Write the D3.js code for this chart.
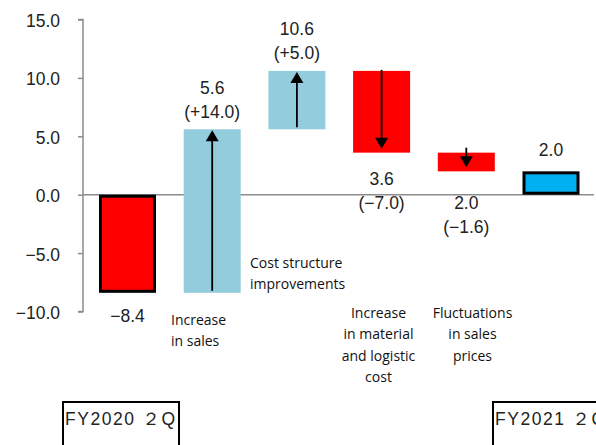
<!DOCTYPE html>
<html><head><meta charset="utf-8">
<script src="https://cdn.jsdelivr.net/npm/d3@7"></script>
<style>body{margin:0;background:#fff}svg{display:block}</style>
</head><body>
<svg id="c" width="596" height="445"></svg>
<script>
const steps = ["FY2020 2Q","Increase in sales","Cost structure improvements","Increase in material and logistic cost","Fluctuations in sales prices","FY2021 2Q"];
const starts = [0, -8.4, 5.6, 10.6, 3.6, 0];
const ends = [-8.4, 5.6, 10.6, 3.6, 2.0, 2.0];
const kinds = ["total","up","up","down","down","total"];
const valueLabels = ["−8.4","5.6","10.6","3.6","2.0","2.0"];
const changeLabels = ["","(+14.0)","(+5.0)","(−7.0)","(−1.6)",""];
const yTicks = [15,10,5,0,-5,-10];
const catLines = [[],["Increase","in sales"],["Cost structure","improvements"],["Increase","in material","and logistic","cost"],["Fluctuations","in sales","prices"],[]];
const periodLabels = ["FY2020 ２Q","FY2021 ２Q"];

const svg = d3.select("#c");
const y = d3.scaleLinear().domain([-10,15]).range([311.5,19.5]);
const x = d3.scaleBand().domain(steps).range([85.15,593.35]).paddingInner(0.327).paddingOuter(0.1635);
const numFont = "'Liberation Sans', Arial, sans-serif";
const catFont = "'Open Sans', 'Noto Sans', sans-serif";
const numSize = 17.5;

// axis
const axis = d3.axisLeft(y).tickValues(yTicks).tickSize(5).tickPadding(18);
const ag = svg.append("g").attr("transform","translate(83,0)").call(axis);
ag.select(".domain").attr("stroke","#8c8c8c").attr("stroke-width",1.5).attr("d","M-5,"+y(-10)+"H0V"+y(15)+"H-5");
ag.selectAll(".tick line").attr("stroke","#8c8c8c").attr("stroke-width",1.5);
ag.selectAll(".tick text").attr("font-family",numFont).attr("font-size",numSize).attr("fill","#222")
  .attr("dy","0.4em").text(d=>d3.format(".1f")(d).replace("-","−"));

// zero line
svg.append("line").attr("x1",83).attr("x2",594).attr("y1",y(0)).attr("y2",y(0)).attr("stroke","#8c8c8c").attr("stroke-width",1.5);

const fillFor = k => k==="up" ? "#93cddd" : "#ff0000";
const bw = x.bandwidth();
const arrowStartOffset = [0, -2, -2, -1, -5, 0];
steps.forEach((s,i)=>{
  const top = y(Math.max(starts[i],ends[i])), bot = y(Math.min(starts[i],ends[i]));
  if (kinds[i]==="total") {
    const fill = i===0 ? "#ff0000" : "#00b0f0";
    svg.append("rect").attr("x",x(s)+1.5).attr("y",top+1.5).attr("width",bw-3).attr("height",bot-top-3)
      .attr("fill",fill).attr("stroke","#000").attr("stroke-width",3);
  } else {
    svg.append("rect").attr("x",x(s)).attr("y",top).attr("width",bw).attr("height",bot-top).attr("fill",fillFor(kinds[i]));
    const cx = x(s)+bw/2;
    const up = kinds[i]==="up";
    const a0 = y(starts[i]) + arrowStartOffset[i], a1 = y(ends[i]) + (up ? 1 : -4);
    const head = 11;
    const dir = up ? 1 : -1;
    svg.append("line").attr("x1",cx).attr("x2",cx).attr("y1",a0).attr("y2",a1+dir*head*0.8).attr("stroke","#000").attr("stroke-width",1.8);
    svg.append("path").attr("d",`M${cx},${a1}L${cx-6.5},${a1+dir*head}L${cx+6.5},${a1+dir*head}Z`).attr("fill","#000");
  }
});

// value labels
const valPos = [
  {dy: y(ends[0])+29, lines:[valueLabels[0]]},
  {dy: y(ends[1])-35.5, lines:[valueLabels[1],changeLabels[1]]},
  {dy: y(ends[2])-35.5, lines:[valueLabels[2],changeLabels[2]]},
  {dy: y(ends[3])+32, lines:[valueLabels[3],changeLabels[3]]},
  {dy: y(ends[4])+38, lines:[valueLabels[4],changeLabels[4]]},
  {dy: y(ends[5])-15, lines:[valueLabels[5]]}
];
steps.forEach((s,i)=>{
  const cx = x(s)+bw/2;
  valPos[i].lines.forEach((t,j)=>{
    svg.append("text").attr("x",cx).attr("y",valPos[i].dy + j*24).attr("text-anchor","middle")
      .attr("font-family",numFont).attr("font-size",numSize).attr("fill","#222").text(t);
  });
});

// category labels
const catPos = [null,{x:171,y:325,anchor:"start"},{x:250,y:268,anchor:"start"},{x:378.5,y:318,anchor:"middle"},{x:472.5,y:318,anchor:"middle"},null];
catLines.forEach((lines,i)=>{
  if(!catPos[i]) return;
  lines.forEach((t,j)=>{
    svg.append("text").attr("x",catPos[i].x).attr("y",catPos[i].y+j*21.3).attr("text-anchor",catPos[i].anchor)
      .attr("font-family",catFont).attr("font-size",14).attr("fill","#111").text(t);
  });
});

// period boxes
const boxes = [{x:63, w:116},{x:493, w:120}];
boxes.forEach((b,i)=>{
  svg.append("rect").attr("x",b.x).attr("y",402).attr("width",b.w).attr("height",60).attr("fill","#fff").attr("stroke","#000").attr("stroke-width",2);
  svg.append("text").attr("x",b.x+2).attr("y",425).attr("font-family",numFont).attr("font-size",numSize).attr("fill","#222")
    .attr("textLength",110).attr("lengthAdjust","spacing").text(periodLabels[i]);
});
</script>
</body></html>
